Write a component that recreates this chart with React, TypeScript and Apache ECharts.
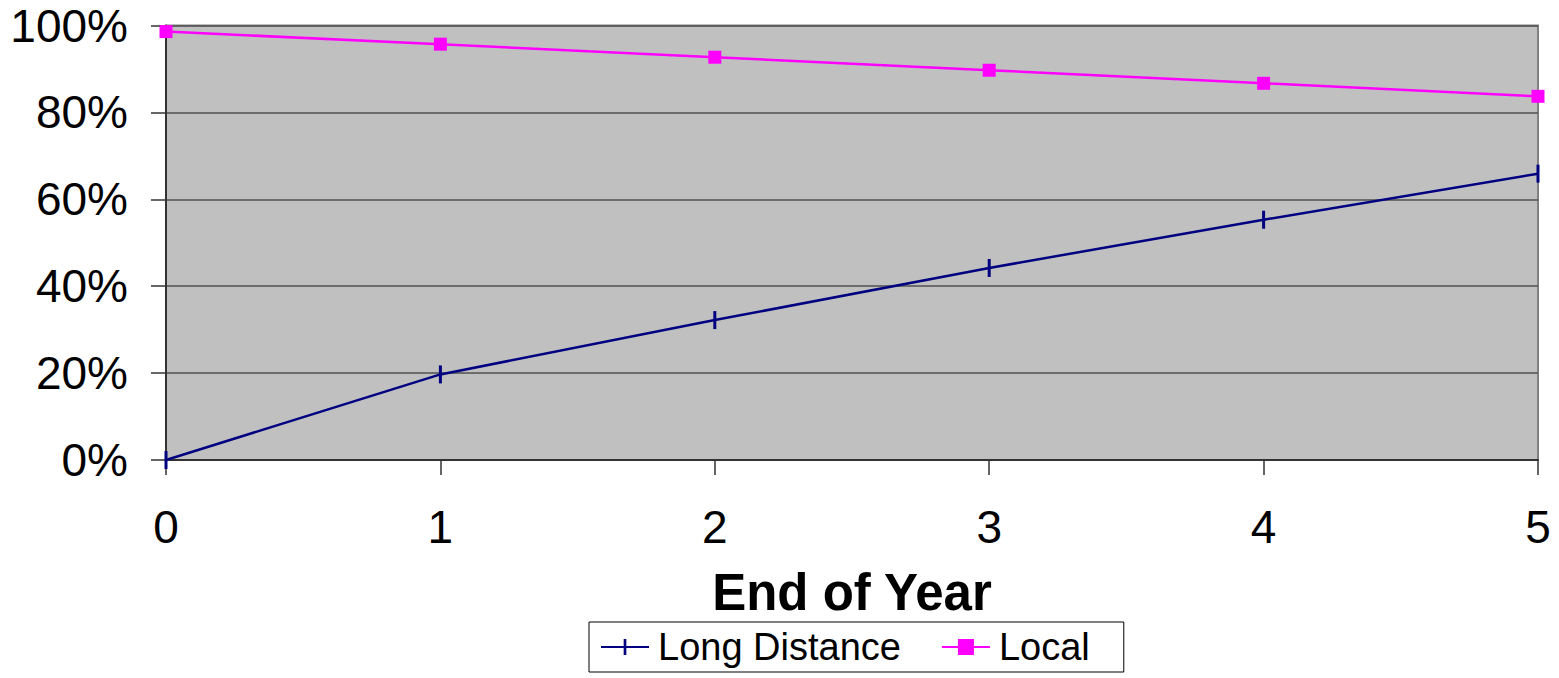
import React, { useEffect, useRef } from "react";
import * as echarts from "echarts";

const years = ["0", "1", "2", "3", "4", "5"];
const longDistance = [0, 19.7, 32.2, 44.2, 55.3, 65.9];
const local = [98.6, 95.7, 92.7, 89.7, 86.7, 83.7];
const xTitle = "End of Year";
const seriesNames = ["Long Distance", "Local"];

const FONT = "'Liberation Sans', Arial, sans-serif";
// vertical bar marker inside a square bounding box (so legend icon keeps it thin)
const BAR_SYMBOL = "path://M0,0 M18,18 M7.5,0 L10.5,0 L10.5,18 L7.5,18 Z";

export default function App() {
  const ref = useRef<HTMLDivElement>(null);
  useEffect(() => {
    if (!ref.current) return;
    const chart = echarts.init(ref.current, null, { renderer: "svg" });
    chart.setOption({
      animation: false,
      backgroundColor: "#ffffff",
      textStyle: { fontFamily: FONT },
      grid: {
        left: 166,
        right: 21,
        top: 25.5,
        bottom: 218,
        show: true,
        backgroundColor: "#C0C0C0",
        borderColor: "#808080",
        borderWidth: 2,
      },
      legend: {
        left: 589,
        top: 622,
        padding: [6, 34, 6, 11],
        itemGap: 40,
        itemWidth: 48,
        itemHeight: 20,
        borderColor: "#000",
        borderWidth: 1,
        backgroundColor: "#fff",
        textStyle: {
          fontFamily: FONT,
          fontSize: 38,
          color: "#000",
          padding: [0, 0, 0, 4],
        },
        data: seriesNames,
      },
      xAxis: {
        type: "category",
        data: years,
        boundaryGap: false,
        name: xTitle,
        nameLocation: "middle",
        nameGap: 107,
        nameTextStyle: {
          fontFamily: FONT,
          fontSize: 51,
          fontWeight: "bold",
          color: "#000",
        },
        axisLine: { show: true, lineStyle: { color: "#333", width: 2 } },
        axisTick: { show: true, length: 15, lineStyle: { color: "#333", width: 1.5 } },
        axisLabel: { fontFamily: FONT, fontSize: 46, color: "#000", margin: 44 },
        splitLine: { show: false },
      },
      yAxis: {
        type: "value",
        min: 0,
        max: 100,
        interval: 20,
        axisLine: { show: true, lineStyle: { color: "#333", width: 2 } },
        axisTick: { show: true, length: 15, lineStyle: { color: "#333", width: 1.5 } },
        axisLabel: {
          fontFamily: FONT,
          fontSize: 46,
          color: "#000",
          margin: 38,
          formatter: "{value}%",
        },
        splitLine: { show: true, lineStyle: { color: "#505050", width: 1.5 } },
      },
      series: [
        {
          name: seriesNames[0],
          type: "line",
          data: longDistance,
          color: "#000080",
          lineStyle: { color: "#000080", width: 2.5 },
          itemStyle: { color: "#000080" },
          symbol: BAR_SYMBOL,
          symbolSize: 18,
          showAllSymbol: true,
        },
        {
          name: seriesNames[1],
          type: "line",
          data: local,
          color: "#FF00FF",
          lineStyle: { color: "#FF00FF", width: 2.5 },
          itemStyle: { color: "#FF00FF" },
          symbol: "rect",
          symbolSize: 13,
          showAllSymbol: true,
        },
      ],
    });
    return () => chart.dispose();
  }, []);
  return (
    <div
      ref={ref}
      style={{ position: "fixed", left: 0, top: 0, width: 1559, height: 678, background: "#fff" }}
    />
  );
}
